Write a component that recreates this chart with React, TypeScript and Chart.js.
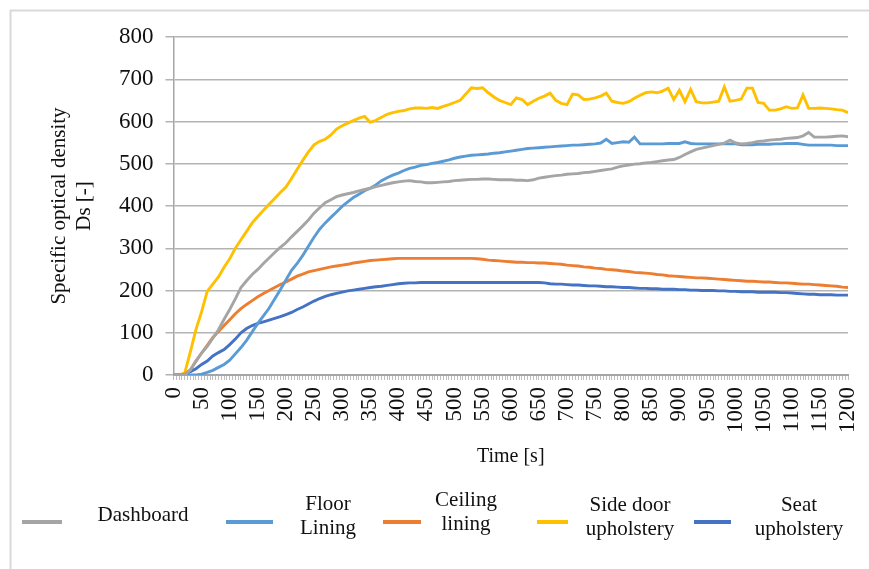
import React, { useEffect, useRef } from "react";
import { Chart, registerables } from "chart.js";

Chart.register(...registerables);

// ---------- DATA ----------
const TIME_S = [
  0, 10, 20, 30, 40, 50, 60, 70, 80, 90, 100, 110, 120, 130, 140, 150, 160, 170, 180, 190,
  200, 210, 220, 230, 240, 250, 260, 270, 280, 290, 300, 310, 320, 330, 340, 350, 360, 370, 380, 390,
  400, 410, 420, 430, 440, 450, 460, 470, 480, 490, 500, 510, 520, 530, 540, 550, 560, 570, 580, 590,
  600, 610, 620, 630, 640, 650, 660, 670, 680, 690, 700, 710, 720, 730, 740, 750, 760, 770, 780, 790,
  800, 810, 820, 830, 840, 850, 860, 870, 880, 890, 900, 910, 920, 930, 940, 950, 960, 970, 980, 990,
  1000, 1010, 1020, 1030, 1040, 1050, 1060, 1070, 1080, 1090, 1100, 1110, 1120, 1130, 1140, 1150, 1160, 1170, 1180, 1190,
  1200,
];

const DASHBOARD = [
  0, 0, 0, 12, 33, 52, 68, 87, 107, 132, 155, 180, 207, 223, 238, 250, 264, 277, 290, 302,
  313, 327, 340, 353, 367, 383, 396, 408, 415, 422, 426, 429, 432, 436, 439, 442, 446, 449, 452, 455,
  457, 459, 460, 458, 457, 455, 455, 456, 457, 458, 460, 461, 462, 463, 463, 464, 464, 463, 462, 462,
  462, 461, 461, 460, 462, 466, 468, 470, 472, 473, 475, 476, 477, 479, 480, 482, 484, 486, 488, 492,
  495, 497, 499, 500, 502, 503, 505, 507, 509, 510, 515, 522, 528, 534, 537, 540, 543, 546, 549, 556,
  549, 547, 548, 550, 553, 554, 556, 557, 558, 560, 561, 562, 566, 574, 563, 563, 563, 564, 565, 566,
  564,
];

const FLOOR_LINING = [
  0, 0, 0, 0, 0, 2, 6, 11, 18, 25, 35, 50, 65, 82, 102, 122, 140, 158, 180, 202,
  225, 248, 264, 283, 305, 326, 345, 360, 373, 386, 399, 410, 420, 428, 436, 442, 450, 460, 467, 473,
  478, 484, 489, 492, 496, 498, 501, 503, 506, 509, 513, 516, 518, 520, 521, 522, 523, 525, 526, 528,
  530, 532, 534, 536, 537, 538, 539, 540, 541, 542, 543, 544, 544, 545, 546, 547, 549, 558, 548, 550,
  552, 551, 563, 547, 547, 547, 547, 547, 548, 548, 548, 552, 548, 547, 547, 547, 547, 547, 547, 547,
  547, 545, 545, 545, 546, 546, 546, 547, 547, 548, 548, 548, 546, 544, 544, 544, 544, 544, 543, 543,
  543,
];

const CEILING_LINING = [
  0, 0, 2, 12, 33, 52, 70, 89, 103, 117, 131, 145, 157, 167, 176, 185, 193, 200, 207, 214,
  220, 227, 234, 239, 244, 247, 250, 253, 256, 258, 260, 262, 265, 267, 269, 271, 272, 273, 274, 275,
  276, 276, 276, 276, 276, 276, 276, 276, 276, 276, 276, 276, 276, 276, 275, 274, 272, 271, 270, 269,
  268, 267, 267, 266, 266, 265, 265, 264, 263, 262, 260, 259, 258, 256, 255, 253, 252, 250, 249, 248,
  246, 245, 243, 242, 241, 240, 238, 237, 235, 234, 233, 232, 231, 230, 230, 229, 228, 227, 226, 225,
  224, 223, 222, 222, 221, 220, 220, 219, 218, 218, 217, 216, 215, 215, 214, 213, 212, 211, 210, 208,
  207,
];

const SIDE_DOOR = [
  0, 0, 5, 55, 108, 150, 198, 215, 232, 255, 275, 300, 320, 340, 360, 375, 390, 404, 418, 432,
  445, 465, 487, 508, 528, 545, 553, 558, 568, 582, 590, 596, 602, 608, 612, 598, 603, 610, 617, 621,
  624, 626, 630, 632, 632, 631, 633, 631, 636, 640, 645, 650, 665, 680, 678, 680, 668, 658, 650, 645,
  640, 656, 652, 640, 648, 655, 660, 667, 650, 643, 640, 665, 663, 652, 653, 656, 660, 667, 648, 645,
  643, 647, 655, 662, 668, 670, 668, 672, 679, 652, 674, 647, 676, 647, 644, 644, 646, 648, 682, 648,
  650, 653, 679, 679, 645, 643, 627, 627, 630, 635, 631, 632, 663, 631, 631, 632, 631, 630, 628, 627,
  621,
];

const SEAT = [
  0, 0, 0, 8, 15, 25, 33, 45, 53, 60, 72, 85, 100, 110, 117, 122, 126, 130, 134, 138,
  143, 148, 155, 161, 168, 175, 181, 186, 190, 193, 196, 199, 201, 203, 205, 207, 209, 210, 212, 214,
  216, 217, 218, 218, 219, 219, 219, 219, 219, 219, 219, 219, 219, 219, 219, 219, 219, 219, 219, 219,
  219, 219, 219, 219, 219, 219, 218, 216, 215, 215, 214, 213, 213, 212, 211, 211, 210, 209, 209, 208,
  207, 207, 206, 205, 205, 204, 204, 203, 203, 203, 202, 202, 201, 201, 200, 200, 200, 199, 199, 198,
  198, 197, 197, 197, 196, 196, 196, 196, 195, 195, 194, 193, 192, 191, 191, 190, 190, 190, 189, 189,
  189,
];

const SERIES_NAMES = ["Dashboard", "Floor Lining", "Ceiling lining", "Side door upholstery", "Seat upholstery"];
const LEGEND_LINES = [["Dashboard"], ["Floor", "Lining"], ["Ceiling", "lining"], ["Side door", "upholstery"], ["Seat", "upholstery"]];
const SERIES_COLORS = ["#A5A5A5", "#5B9BD5", "#ED7D31", "#FFC000", "#4472C4"];
const SERIES_VALUES = [DASHBOARD, FLOOR_LINING, CEILING_LINING, SIDE_DOOR, SEAT];

const Y_TITLE = ["Specific optical density", "Ds [-]"];
const X_TITLE = "Time [s]";

const FONT = '"Liberation Serif", "Times New Roman", serif';
const W = 869;
const H = 569;

// legend layout (sample line x-range, text centre x, line y positions)
const LEGEND_LAYOUT = [
  { x1: 22, x2: 62, tx: 143, ty: [515] },
  { x1: 226, x2: 273, tx: 328, ty: [504, 528] },
  { x1: 383, x2: 421, tx: 466, ty: [500, 524] },
  { x1: 537, x2: 568, tx: 630, ty: [505, 529] },
  { x1: 694, x2: 731, tx: 799, ty: [505, 529] },
];

const framePlugin = {
  id: "frame",
  beforeDraw(chart: any) {
    const ctx = chart.ctx;
    ctx.save();
    ctx.fillStyle = "#ffffff";
    ctx.fillRect(0, 0, chart.width, chart.height);
    ctx.strokeStyle = "#d9d9d9";
    ctx.lineWidth = 2;
    ctx.beginPath();
    ctx.moveTo(10.5, chart.height);
    ctx.lineTo(10.5, 10.5);
    ctx.lineTo(chart.width, 10.5);
    ctx.stroke();
    ctx.restore();
  },
};

const legendPlugin = {
  id: "customLegend",
  afterDraw(chart: any) {
    const ctx = chart.ctx;
    ctx.save();
    chart.data.datasets.forEach((ds: any, i: number) => {
      const L = LEGEND_LAYOUT[i];
      ctx.strokeStyle = ds.borderColor;
      ctx.lineWidth = 4;
      ctx.lineCap = "butt";
      ctx.beginPath();
      ctx.moveTo(L.x1, 522);
      ctx.lineTo(L.x2, 522);
      ctx.stroke();
      ctx.fillStyle = "#111111";
      ctx.font = `21px ${FONT}`;
      ctx.textAlign = "center";
      ctx.textBaseline = "middle";
      LEGEND_LINES[i].forEach((line, j) => {
        ctx.fillText(line, L.tx, L.ty[j]);
      });
    });
    ctx.restore();
  },
};

export default function App() {
  const canvasRef = useRef<HTMLCanvasElement | null>(null);

  useEffect(() => {
    if (!canvasRef.current) return;
    const datasets = SERIES_VALUES.map((vals, i) => ({
      label: SERIES_NAMES[i],
      data: vals.map((v, k) => ({ x: TIME_S[k], y: v })),
      borderColor: SERIES_COLORS[i],
      backgroundColor: SERIES_COLORS[i],
      borderWidth: 2.9,
      pointRadius: 0,
      tension: 0,
      fill: false,
    }));

    const chart = new Chart(canvasRef.current, {
      type: "line",
      data: { datasets },
      plugins: [framePlugin, legendPlugin],
      options: {
        responsive: false,
        animation: false,
        devicePixelRatio: 1,
        layout: { padding: { left: 0, right: 21, top: 37, bottom: 96 } },
        plugins: {
          legend: { display: false },
          tooltip: { enabled: false },
        },
        scales: {
          x: {
            type: "linear",
            min: 0,
            max: 1200,
            afterFit: (scale: any) => {
              scale.height = 98;
              scale.paddingLeft = 0;
              scale.paddingRight = 0;
            },
            ticks: {
              stepSize: 5,
              autoSkip: false,
              minRotation: 90,
              maxRotation: 90,
              padding: 7,
              color: "#111111",
              font: { family: FONT, size: 23 },
              callback: (value: any) => (Number(value) % 50 === 0 ? String(value) : ""),
            },
            grid: {
              display: true,
              drawOnChartArea: false,
              drawTicks: true,
              tickLength: 5,
              color: "#bfbfbf",
              lineWidth: 1,
            },
            border: { display: true, color: "#a6a6a6", width: 2 },
            title: {
              display: true,
              text: X_TITLE,
              color: "#111111",
              font: { family: FONT, size: 20 },
              padding: { top: 4, bottom: 4 },
            },
          },
          y: {
            type: "linear",
            min: 0,
            max: 800,
            afterFit: (scale: any) => {
              scale.width = 173.5;
            },
            ticks: {
              stepSize: 100,
              padding: 12,
              color: "#111111",
              font: { family: FONT, size: 23 },
            },
            grid: {
              color: "#b3b3b3",
              lineWidth: 1.5,
              tickLength: 8,
            },
            border: { display: true, color: "#a6a6a6", width: 1.5 },
            title: {
              display: true,
              text: Y_TITLE,
              color: "#111111",
              font: { family: FONT, size: 21 },
              padding: { top: 47, bottom: 0 },
            },
          },
        },
      },
    } as any);

    return () => {
      chart.destroy();
    };
  }, []);

  return (
    <div style={{ position: "fixed", left: 0, top: 0, width: W, height: H, background: "#fff" }}>
      <canvas ref={canvasRef} width={W} height={H} style={{ width: W, height: H, display: "block" }} />
    </div>
  );
}
